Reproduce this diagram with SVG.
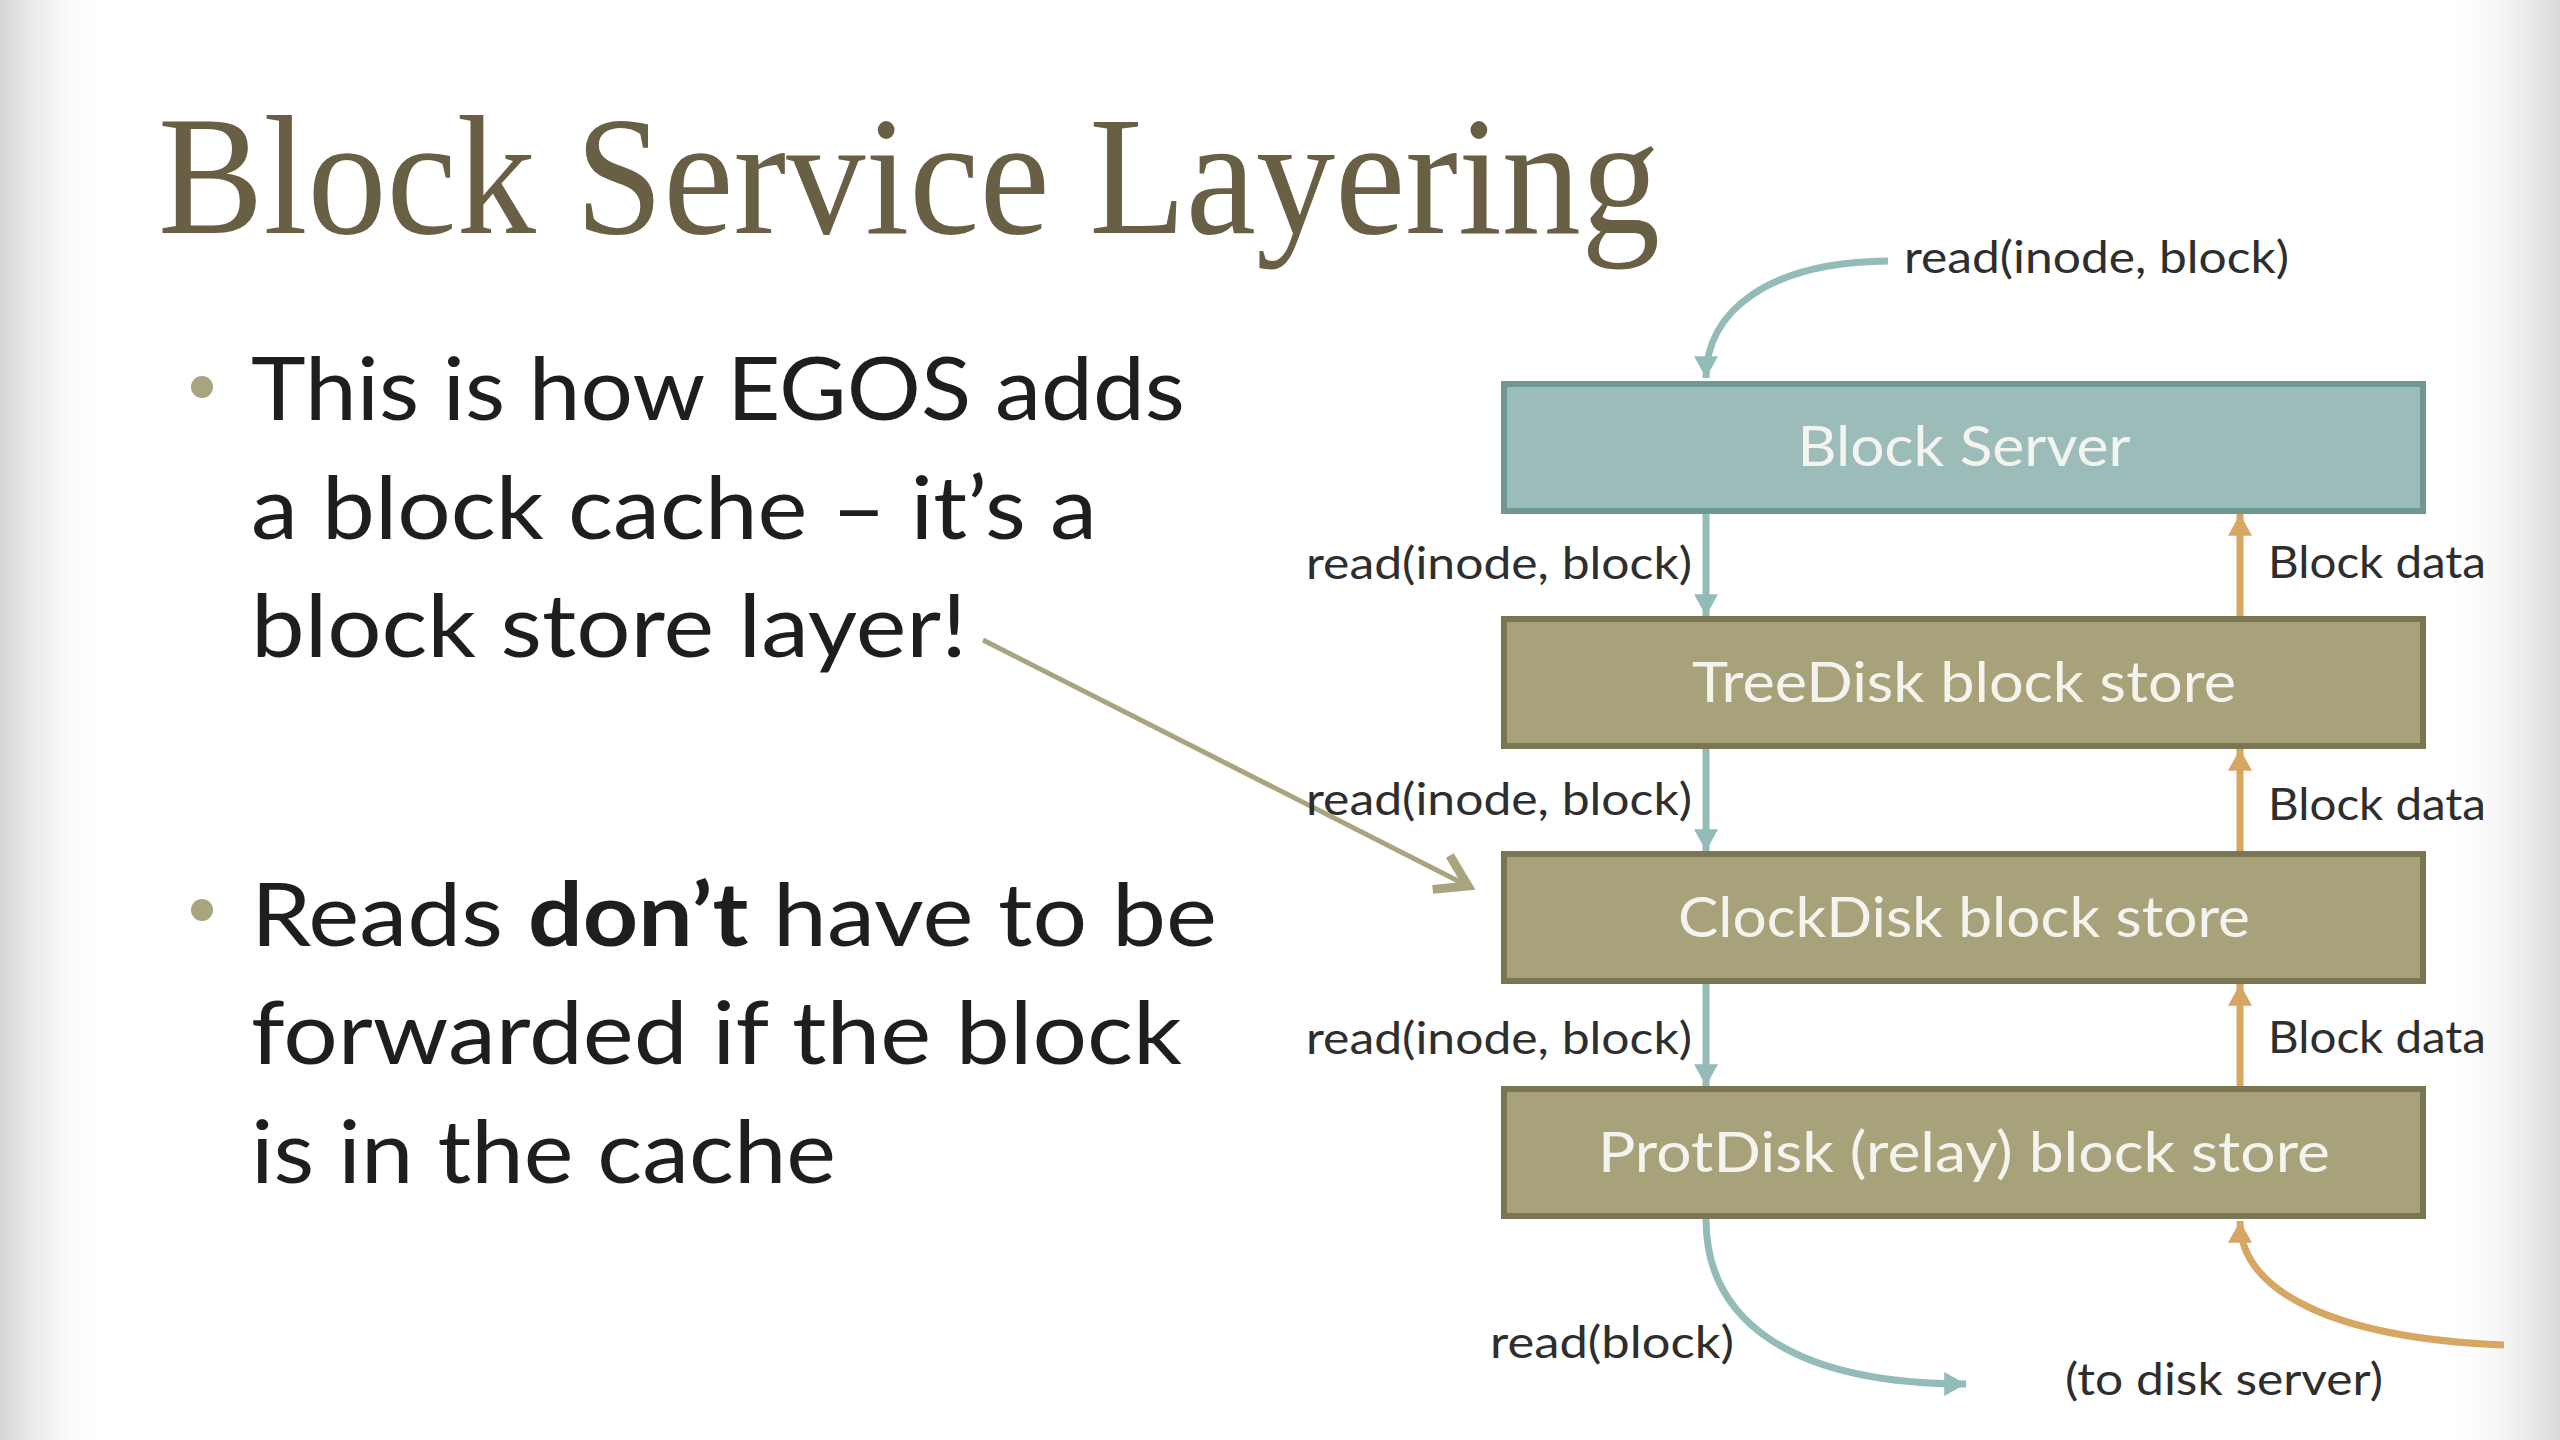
<svg xmlns="http://www.w3.org/2000/svg" width="2560" height="1440" viewBox="0 0 2560 1440">
<defs>
<linearGradient id="gl" x1="0" y1="0" x2="1" y2="0">
<stop offset="0" stop-color="#d4d4d4"/>
<stop offset="1" stop-color="#ffffff" stop-opacity="0"/>
</linearGradient>
<linearGradient id="gr" x1="1" y1="0" x2="0" y2="0">
<stop offset="0" stop-color="#d8d8d8"/>
<stop offset="1" stop-color="#ffffff" stop-opacity="0"/>
</linearGradient>
<marker id="aTeal" markerUnits="userSpaceOnUse" markerWidth="24" markerHeight="24" viewBox="0 0 20 22" refX="20" refY="11" orient="auto">
<path d="M0,0 L20,11 L0,22 Z" fill="#93bcb9"/>
</marker>
<marker id="aOrange" markerUnits="userSpaceOnUse" markerWidth="24" markerHeight="24" viewBox="0 0 20 22" refX="20" refY="11" orient="auto">
<path d="M0,0 L20,11 L0,22 Z" fill="#d5a762"/>
</marker>
<marker id="aOlive" markerUnits="userSpaceOnUse" markerWidth="60" markerHeight="60" viewBox="-40 -30 44 60" refX="0" refY="0" orient="auto" overflow="visible">
<path d="M-30,-19 L0,0 L-30,19" fill="none" stroke="#a8a57e" stroke-width="9"/>
</marker>
</defs>
<style>
.title{font-family:"Liberation Serif","DejaVu Serif",serif;font-size:170px;fill:#695f45}
.bul{font-family:Lato,"Open Sans",sans-serif;font-size:88px;fill:#1e1e1e}
.dot{fill:#a8a57e}
.lbl{font-family:Lato,"Open Sans",sans-serif;font-size:44px;fill:#2e2e2e}
.btxt{font-family:Lato,"Open Sans",sans-serif;font-size:56px;fill:#f4f4ee;text-anchor:middle}
.teal{fill:#9bbcb9;stroke:#6f9895;stroke-width:6}
.olive{fill:#a8a27a;stroke:#7a7552;stroke-width:6}
.cT{fill:none;stroke:#93bcb9;stroke-width:7}
.cO{fill:none;stroke:#d5a762;stroke-width:7}
</style>
<rect x="0" y="0" width="2560" height="1440" fill="#ffffff"/>
<rect x="0" y="0" width="110" height="1440" fill="url(#gl)"/>
<rect x="2440" y="0" width="120" height="1440" fill="url(#gr)"/>

<text class="title" x="158" y="233" textLength="1502" lengthAdjust="spacingAndGlyphs">Block Service Layering</text>

<g id="bullet1">
<circle class="dot" cx="202" cy="387" r="11"/>
<text class="bul" x="251" y="420" textLength="934" lengthAdjust="spacingAndGlyphs">This is how EGOS adds</text>
<text class="bul" x="251" y="539" textLength="846" lengthAdjust="spacingAndGlyphs">a block cache – it’s a</text>
<text class="bul" x="251" y="657" textLength="716" lengthAdjust="spacingAndGlyphs">block store layer!</text>
</g>
<g id="bullet2">
<circle class="dot" cx="202" cy="910" r="11"/>
<text class="bul" x="251" y="946" textLength="966" lengthAdjust="spacingAndGlyphs">Reads <tspan font-weight="bold">don’t</tspan> have to be</text>
<text class="bul" x="251" y="1064" textLength="931" lengthAdjust="spacingAndGlyphs">forwarded if the block</text>
<text class="bul" x="251" y="1183" textLength="585" lengthAdjust="spacingAndGlyphs">is in the cache</text>
</g>

<g id="blockserver">
<rect class="teal" x="1504" y="384" width="919" height="127"/>
<text class="btxt" x="1964" y="466" textLength="333" lengthAdjust="spacingAndGlyphs">Block Server</text>
</g>
<g id="treedisk">
<rect class="olive" x="1504" y="619" width="919" height="127"/>
<text class="btxt" x="1964" y="702" textLength="544" lengthAdjust="spacingAndGlyphs">TreeDisk block store</text>
</g>
<g id="clockdisk">
<rect class="olive" x="1504" y="854" width="919" height="127"/>
<text class="btxt" x="1964" y="937" textLength="572" lengthAdjust="spacingAndGlyphs">ClockDisk block store</text>
</g>
<g id="protdisk">
<rect class="olive" x="1504" y="1089" width="919" height="127"/>
<text class="btxt" x="1964" y="1172" textLength="732" lengthAdjust="spacingAndGlyphs">ProtDisk (relay) block store</text>
</g>

<g id="connectors">
<path class="cT" d="M1888,261 C1770,262 1706,310 1706,378" marker-end="url(#aTeal)"/>
<line class="cT" x1="1706" y1="514" x2="1706" y2="616" marker-end="url(#aTeal)"/>
<line class="cT" x1="1706" y1="749" x2="1706" y2="851" marker-end="url(#aTeal)"/>
<line class="cT" x1="1706" y1="984" x2="1706" y2="1086" marker-end="url(#aTeal)"/>
<path class="cT" d="M1706,1219 C1706,1320 1790,1384 1966,1384" marker-end="url(#aTeal)"/>
<line class="cO" x1="2240" y1="616" x2="2240" y2="514" marker-end="url(#aOrange)"/>
<line class="cO" x1="2240" y1="851" x2="2240" y2="749" marker-end="url(#aOrange)"/>
<line class="cO" x1="2240" y1="1086" x2="2240" y2="984" marker-end="url(#aOrange)"/>
<path class="cO" d="M2504,1345 C2330,1338 2240,1290 2240,1221" marker-end="url(#aOrange)"/>
<line x1="983" y1="640" x2="1468" y2="886" stroke="#a8a57e" stroke-width="5" marker-end="url(#aOlive)"/>
</g>

<g id="labels">
<text class="lbl" x="1904" y="273" textLength="385" lengthAdjust="spacingAndGlyphs">read(inode, block)</text>
<text class="lbl" x="1692" y="579" text-anchor="end" textLength="386" lengthAdjust="spacingAndGlyphs">read(inode, block)</text>
<text class="lbl" x="1692" y="815" text-anchor="end" textLength="386" lengthAdjust="spacingAndGlyphs">read(inode, block)</text>
<text class="lbl" x="1692" y="1054" text-anchor="end" textLength="386" lengthAdjust="spacingAndGlyphs">read(inode, block)</text>
<text class="lbl" x="2268" y="578" textLength="218" lengthAdjust="spacingAndGlyphs">Block data</text>
<text class="lbl" x="2268" y="820" textLength="218" lengthAdjust="spacingAndGlyphs">Block data</text>
<text class="lbl" x="2268" y="1053" textLength="218" lengthAdjust="spacingAndGlyphs">Block data</text>
<text class="lbl" x="1490" y="1358" textLength="244" lengthAdjust="spacingAndGlyphs">read(block)</text>
<text class="lbl" x="2065" y="1395" textLength="318" lengthAdjust="spacingAndGlyphs">(to disk server)</text>
</g>
</svg>
